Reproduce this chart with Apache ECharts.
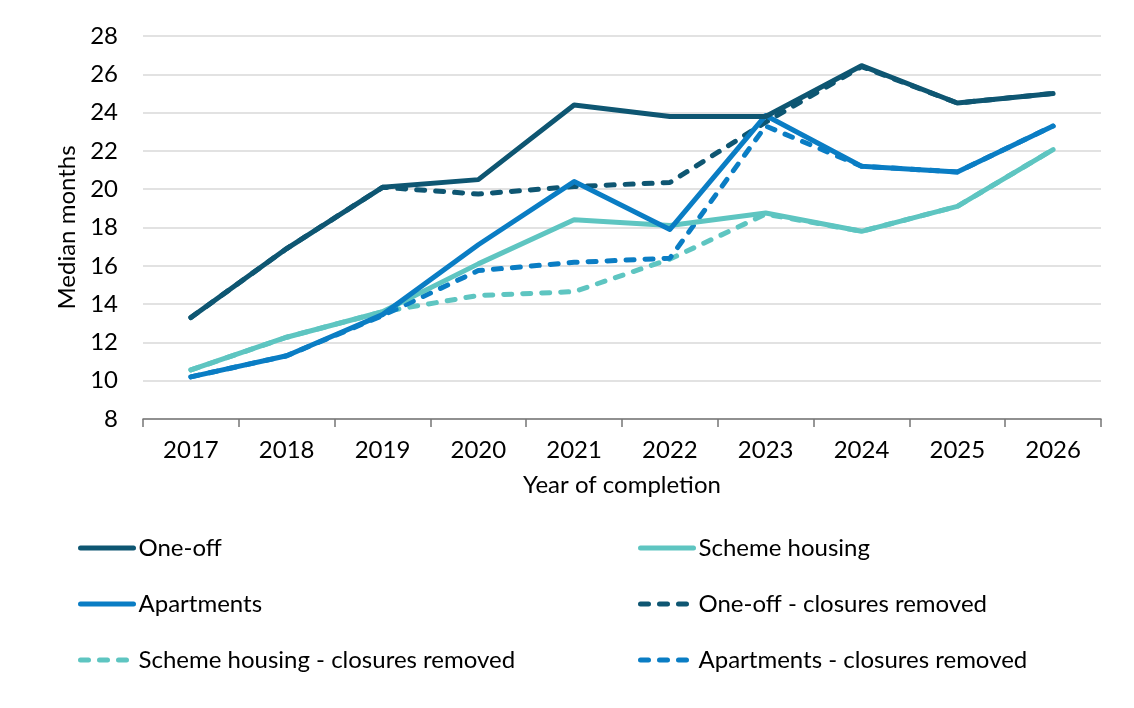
<!DOCTYPE html>
<html>
<head>
<meta charset="utf-8">
<script src="https://cdn.jsdelivr.net/npm/echarts@6/dist/echarts.min.js"></script>
<style>html,body{margin:0;padding:0;background:#fff}#c{width:1134px;height:708px}</style>
</head>
<body>
<div id="c"></div>
<script>
var years = ['2017','2018','2019','2020','2021','2022','2023','2024','2025','2026'];
var oneOff = [13.3, 16.9, 20.1, 20.5, 24.4, 23.8, 23.8, 26.45, 24.5, 25.0];
var scheme = [10.56, 12.27, 13.6, 16.1, 18.4, 18.1, 18.76, 17.8, 19.1, 22.07];
var apartments = [10.2, 11.3, 13.45, 17.1, 20.4, 17.9, 23.85, 21.2, 20.9, 23.3];
var oneOffCR = [13.3, 16.9, 20.1, 19.75, 20.14, 20.35, 23.5, 26.4, 24.5, 25.0];
var schemeCR = [10.56, 12.27, 13.6, 14.45, 14.65, 16.35, 18.7, 17.8, 19.1, 22.07];
var apartmentsCR = [10.2, 11.3, 13.4, 15.75, 16.18, 16.4, 23.3, 21.2, 20.9, 23.3];

var cDark = '#0E5672', cTeal = '#5EC5C1', cBlue = '#0A7DC4';
var font = 'Lato';
function mk(name, data, color, dashed) {
  return {
    name: name, type: 'line', data: data, symbol: 'none', showSymbol: false, smooth: false,
    lineStyle: { color: color, width: 5, type: dashed ? [8, 11] : 'solid', cap: 'round', join: 'round' },
    itemStyle: { color: color }
  };
}
var legendText = { fontFamily: font, fontSize: 24, color: '#000', lineHeight: 24 };
var legendLine = { width: 5, cap: 'round' };
var chart = echarts.init(document.getElementById('c'));
chart.setOption({
  backgroundColor: '#fff',
  animation: false,
  textStyle: { fontFamily: font },
  grid: { left: 143, right: 33, top: 36, bottom: 289 },
  legend: [
    { orient: 'vertical', left: 73, top: 531, itemWidth: 53, itemHeight: 14, itemGap: 32,
      itemStyle: { opacity: 0 }, lineStyle: legendLine, textStyle: legendText,
      data: ['One-off', 'Apartments', 'Scheme housing - closures removed'] },
    { orient: 'vertical', left: 633, top: 531, itemWidth: 53, itemHeight: 14, itemGap: 32,
      itemStyle: { opacity: 0 }, lineStyle: legendLine, textStyle: legendText,
      data: ['Scheme housing', 'One-off - closures removed', 'Apartments - closures removed'] }
  ],
  xAxis: {
    type: 'category', data: years, boundaryGap: true,
    name: 'Year of completion', nameLocation: 'middle', nameGap: 54,
    nameTextStyle: { fontFamily: font, fontSize: 24, color: '#000' },
    axisLine: { lineStyle: { color: '#767676', width: 1.5 } },
    axisTick: { show: true, length: 8, lineStyle: { color: '#767676', width: 1.5 } },
    axisLabel: { fontFamily: font, fontSize: 24, color: '#000', margin: 19 }
  },
  yAxis: {
    type: 'value', min: 8, max: 28, interval: 2,
    name: 'Median months', nameLocation: 'middle', nameGap: 56,
    nameTextStyle: { fontFamily: font, fontSize: 24, color: '#000' },
    axisLine: { show: false }, axisTick: { show: false },
    axisLabel: { fontFamily: font, fontSize: 24, color: '#000', margin: 25 },
    splitLine: { lineStyle: { color: '#D9D9D9', width: 1.5 } }
  },
  series: [
    mk('Scheme housing - closures removed', schemeCR, cTeal, true),
    mk('Apartments - closures removed', apartmentsCR, cBlue, true),
    mk('One-off - closures removed', oneOffCR, cDark, true),
    mk('Scheme housing', scheme, cTeal, false),
    mk('Apartments', apartments, cBlue, false),
    mk('One-off', oneOff, cDark, false)
  ]
});
</script>
</body>
</html>
